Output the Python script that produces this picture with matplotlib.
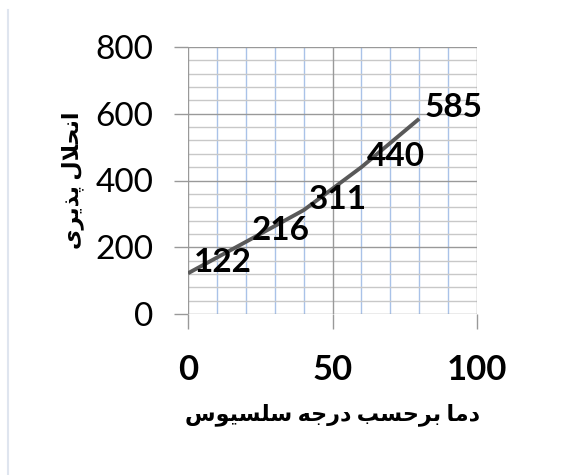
import matplotlib
matplotlib.use("Agg")
import matplotlib.pyplot as plt
from matplotlib.lines import Line2D

temps = [0, 20, 40, 60, 80]
solubility = [122, 216, 311, 440, 585]
x_ticks = [0, 50, 100]
y_ticks = [0, 200, 400, 600, 800]
x_label = "دما برحسب درجه سلسیوس"
y_label = "انحلال پذیری"

# presentation forms (isolated, final, initial, medial) - matplotlib does no arabic shaping
FORMS = {
    '\u0627': (0xFE8D, 0xFE8E, None, None),
    '\u0628': (0xFE8F, 0xFE90, 0xFE91, 0xFE92),
    '\u067E': (0xFB56, 0xFB57, 0xFB58, 0xFB59),
    '\u062C': (0xFE9D, 0xFE9E, 0xFE9F, 0xFEA0),
    '\u062D': (0xFEA1, 0xFEA2, 0xFEA3, 0xFEA4),
    '\u062F': (0xFEA9, 0xFEAA, None, None),
    '\u0630': (0xFEAB, 0xFEAC, None, None),
    '\u0631': (0xFEAD, 0xFEAE, None, None),
    '\u0633': (0xFEB1, 0xFEB2, 0xFEB3, 0xFEB4),
    '\u0644': (0xFEDD, 0xFEDE, 0xFEDF, 0xFEE0),
    '\u0645': (0xFEE1, 0xFEE2, 0xFEE3, 0xFEE4),
    '\u0646': (0xFEE5, 0xFEE6, 0xFEE7, 0xFEE8),
    '\u0647': (0xFEE9, 0xFEEA, 0xFEEB, 0xFEEC),
    '\u0648': (0xFEED, 0xFEEE, None, None),
    '\u06CC': (0xFBFC, 0xFBFD, 0xFBFE, 0xFBFF),
}


def shape(text):
    glyphs = []
    i = 0
    while i < len(text):
        c = text[i]
        prev = text[i - 1] if i > 0 else ''
        link_prev = c in FORMS and prev in FORMS and FORMS[prev][2] is not None
        if c == '\u0644' and i + 1 < len(text) and text[i + 1] == '\u0627':
            glyphs.append(chr(0xFEFC if link_prev else 0xFEFB))
            i += 2
            continue
        if c not in FORMS:
            glyphs.append(c)
            i += 1
            continue
        nxt = text[i + 1] if i + 1 < len(text) else ''
        link_next = FORMS[c][2] is not None and nxt in FORMS
        iso, fin, ini, med = FORMS[c]
        if link_prev and link_next:
            g = med
        elif link_prev:
            g = fin
        elif link_next:
            g = ini
        else:
            g = iso
        glyphs.append(chr(g))
        i += 1
    return ''.join(reversed(glyphs))


plt.rcParams['font.family'] = ['Lato', 'DejaVu Sans']

fig = plt.figure(figsize=(5.83, 4.75), dpi=100)
ax = fig.add_axes([0.3225, 0.339, 0.4957, 0.562])

# grid
for x in range(10, 100, 10):
    if x % 50:
        ax.axvline(x, color='#a9c2e8', lw=1.0, zorder=1)
for y in range(40, 800, 40):
    if y % 200:
        ax.axhline(y, color='#c8c8c8', lw=1.0, zorder=1)
for x in x_ticks:
    ax.axvline(x, color='#999999', lw=1.0, zorder=1.5)
for y in y_ticks:
    ax.axhline(y, color='#999999', lw=1.0, zorder=1.5)

ax.plot(temps, solubility, color='#595959', lw=2.8, solid_capstyle='butt', zorder=3)
for a, b in zip(temps, solubility):
    ax.annotate(str(b), (a, b), xytext=(4, 8), textcoords='offset points',
                ha='left', va='center', fontsize=24, fontweight='bold', color='black', zorder=4)

ax.set_xlim(0, 100)
ax.set_ylim(0, 800)
ax.set_xticks(x_ticks)
ax.set_yticks(y_ticks)
for s in ax.spines.values():
    s.set_visible(False)
ax.tick_params(axis='x', length=11, width=1, color='#999999', pad=18, labelsize=25)
ax.tick_params(axis='y', length=10, width=1, color='#999999', pad=15, labelsize=24)
for t in ax.get_xticklabels():
    t.set_fontweight('bold')

ax.set_xlabel(shape(x_label), fontsize=16, fontweight='bold', labelpad=12)
ax.set_ylabel(shape(y_label), fontsize=16, fontweight='bold', labelpad=8)

fig.add_artist(Line2D([0.014, 0.014], [0.0, 0.98], color='#dfe5ef', lw=1.5))

fig.savefig('out.png', dpi=100)
